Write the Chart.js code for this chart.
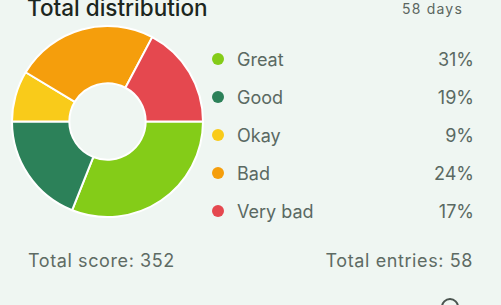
<!DOCTYPE html>
<html>
<head>
<meta charset="utf-8">
<script src="https://cdn.jsdelivr.net/npm/chart.js@4/dist/chart.umd.min.js"></script>
<style>
  html, body { margin: 0; padding: 0; }
  body {
    width: 501px; height: 305px; overflow: hidden; position: relative;
    background: #eff6f2; font-family: Inter, "Noto Sans", sans-serif;
  }
  #title {
    position: absolute; left: 27px; top: -6px; font-size: 22.5px; font-weight: 500;
    color: #1c2620;
  }
  #days {
    position: absolute; right: 38px; top: 0px; font-size: 14px; letter-spacing: 1.2px;
    color: #5b6660;
  }
  #wrap { position: absolute; left: 11px; top: 25px; width: 193px; height: 193px; }
  #legend { position: absolute; left: 212px; top: 40px; width: 262px; }
  .row {
    height: 38px; display: flex; align-items: center; font-size: 18px; color: #5a6962;
  }
  .dot { width: 12px; height: 12px; border-radius: 50%; margin-right: 13px; }
  .name { flex: 1; }
  .foot {
    position: absolute; top: 250px; font-size: 18px; letter-spacing: 0.6px; color: #5e6b64;
  }
  #icon {
    position: absolute; left: 441px; top: 298px; width: 14px; height: 14px;
    border-radius: 50%; border: 2px solid #4b5550;
  }
</style>
</head>
<body>
<div id="title">Total distribution</div>
<div id="days">58 days</div>
<div id="wrap"><canvas id="chart-dist"></canvas></div>
<div id="legend"></div>
<div class="foot" style="left:28px">Total score: 352</div>
<div class="foot" style="right:28px">Total entries: 58</div>
<div id="icon"></div>
<script>
const moods = ['Great', 'Good', 'Okay', 'Bad', 'Very bad'];
const counts = [18, 11, 5, 14, 10];
const percents = ['31%', '19%', '9%', '24%', '17%'];
const colors = ['#84cc18', '#2c8159', '#f9cb1a', '#f59e0c', '#e5484f'];

const legend = document.getElementById('legend');
moods.forEach((m, i) => {
    const row = document.createElement('div');
    row.className = 'row';
    row.innerHTML = '<span class="dot" style="background:' + colors[i] + '"></span>' +
        '<span class="name">' + m + '</span><span>' + percents[i] + '</span>';
    legend.appendChild(row);
});

new Chart(document.getElementById('chart-dist'), {
    type: 'doughnut',
    data: {
        labels: moods,
        datasets: [{
            data: counts,
            backgroundColor: colors,
            borderColor: '#ffffff',
            borderWidth: 2
        }]
    },
    options: {
        responsive: true,
        maintainAspectRatio: false,
        animation: false,
        rotation: 90,
        cutout: '40%',
        plugins: {
            legend: { display: false },
            tooltip: { enabled: false }
        }
    }
});
</script>
</body>
</html>
